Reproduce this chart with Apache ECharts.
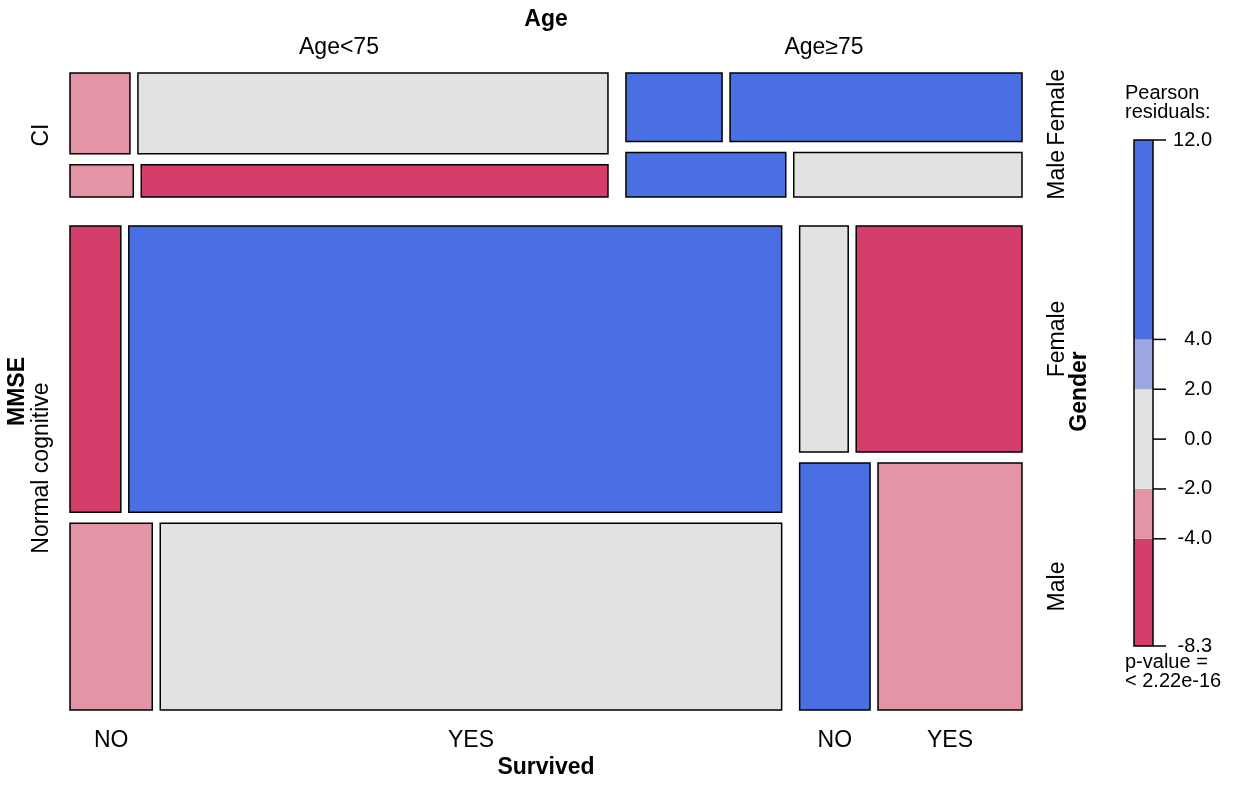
<!DOCTYPE html>
<html>
<head>
<meta charset="utf-8" />
<title>Mosaic</title>
<style>
  html, body { margin: 0; padding: 0; background: #fff; }
  #chart { width: 1248px; height: 786px; }
</style>
</head>
<body>
<div id="chart"></div>
<script src="https://cdn.jsdelivr.net/npm/echarts@6/dist/echarts.min.js"></script>
<script>
// levels of the four factors
var mmseLevels = ['CI', 'Normal cognitive'];
var ageLevels = ['Age<75', 'Age\u226575'];
var genderLevels = ['Female', 'Male'];
var survivedLevels = ['NO', 'YES'];

// counts per MMSE x Age block, order: Female-NO, Female-YES, Male-NO, Male-YES
var countCIyoung = [19, 149, 8, 59];
var countCIold = [26, 79, 28, 40];
var countNormYoung = [53, 681, 56, 423];
var countNormOld = [41, 140, 65, 133];

// pearson residuals, same order
var residCIyoung = [-3.0, 0.8, -2.6, -5.5];
var residCIold = [9.0, 12.0, 7.5, 1.2];
var residNormYoung = [-8.3, 5.8, -3.1, -1.0];
var residNormOld = [0.6, -5.2, 5.0, -3.3];

// shading legend
var shadeBreaks = [-8.3, -4, -2, 2, 4, 12];
var shadeColors = ['#D33F6A', '#E495A5', '#E2E2E2', '#9DA8E2', '#4A6FE3'];
var legendTicks = [12, 4, 2, 0, -2, -4, -8.3];

var counts = [[countCIyoung, countCIold], [countNormYoung, countNormOld]];
var resids = [[residCIyoung, residCIold], [residNormYoung, residNormOld]];

var plotW = 952, plotH = 637;
var gaps = [29, 18, 11, 8];
var FONT = '"Liberation Sans", Arial, sans-serif';

function sum(a) { return a.reduce(function (s, v) { return s + v; }, 0); }

function splitRect(r, weights, gap, dir) {
	var total = sum(weights);
	var n = weights.length;
	var out = [];
	if (dir === 'h') {
		var avail = (r.x1 - r.x0) - gap * (n - 1);
		var x = r.x0;
		for (var i = 0; i < n; i++) {
			var w = avail * weights[i] / total;
			out.push({ x0: x, x1: x + w, y0: r.y0, y1: r.y1 });
			x += w + gap;
		}
	} else {
		var availH = (r.y1 - r.y0) - gap * (n - 1);
		var y = r.y0;
		for (var j = 0; j < n; j++) {
			var h = availH * weights[j] / total;
			out.push({ x0: r.x0, x1: r.x1, y0: y, y1: y + h });
			y += h + gap;
		}
	}
	return out;
}

function shadeOf(v) {
	for (var i = 0; i < shadeColors.length; i++) {
		if (v <= shadeBreaks[i + 1]) return shadeColors[i];
	}
	return shadeColors[shadeColors.length - 1];
}

// build the mosaic: MMSE rows, Age columns, Gender rows, Survived columns
var cells = [];
var labels = [];
var whole = { x0: 0, x1: plotW, y0: 0, y1: plotH };
var mmseW = counts.map(function (m) { return sum(m.map(sum)); });
var mmseRects = splitRect(whole, mmseW, gaps[0], 'v');

mmseRects.forEach(function (mr, m) {
	labels.push({ x: mr.x0, y: (mr.y0 + mr.y1) / 2, dx: -28, dy: 0, text: mmseLevels[m], rot: true });
	var ageRects = splitRect(mr, counts[m].map(sum), gaps[1], 'h');
	ageRects.forEach(function (ar, a) {
		var c = counts[m][a];
		if (m === 0) {
			labels.push({ x: (ar.x0 + ar.x1) / 2, y: ar.y0, dx: 0, dy: -25, text: ageLevels[a] });
		}
		var gRects = splitRect(ar, [c[0] + c[1], c[2] + c[3]], gaps[2], 'v');
		gRects.forEach(function (gr, g) {
			if (a === ageRects.length - 1) {
				labels.push({ x: gr.x1, y: (gr.y0 + gr.y1) / 2, dx: 36, dy: 0, text: genderLevels[g], rot: true });
			}
			var sRects = splitRect(gr, [c[g * 2], c[g * 2 + 1]], gaps[3], 'h');
			sRects.forEach(function (sr, s) {
				sr.r = resids[m][a][g * 2 + s];
				cells.push(sr);
				if (m === mmseRects.length - 1 && g === gRects.length - 1) {
					labels.push({ x: (sr.x0 + sr.x1) / 2, y: sr.y1, dx: 0, dy: 31, text: survivedLevels[s] });
				}
			});
		});
	});
});

// variable names
labels.push({ x: plotW / 2, y: 0, dx: 0, dy: -53, text: 'Age', bold: true });
labels.push({ x: 0, y: plotH / 2, dx: -52, dy: 0, text: 'MMSE', bold: true, rot: true });
labels.push({ x: plotW, y: plotH / 2, dx: 58, dy: 0, text: 'Gender', bold: true, rot: true });
labels.push({ x: plotW / 2, y: plotH, dx: 0, dy: 58, text: 'Survived', bold: true });

var segs = [];
for (var k = 0; k < shadeColors.length; k++) segs.push([shadeBreaks[k], shadeBreaks[k + 1]]);

var myChart = echarts.init(document.getElementById('chart'));

var option = {
	animation: false,
	backgroundColor: '#fff',
	grid: [
		{ left: 70, top: 73, width: plotW, height: plotH },
		{ left: 1134, top: 140, width: 19, height: 506 }
	],
	xAxis: [
		{ gridIndex: 0, type: 'value', min: 0, max: plotW, show: false },
		{ gridIndex: 1, type: 'value', min: 0, max: 1, show: false }
	],
	yAxis: [
		{ gridIndex: 0, type: 'value', min: 0, max: plotH, inverse: true, show: false },
		{
			gridIndex: 1, type: 'value', min: -8.3, max: 12, position: 'right',
			axisLine: { show: false },
			splitLine: { show: false },
			axisTick: { show: false },
			axisLabel: {
				customValues: legendTicks, align: 'right', margin: 59,
				color: '#000', fontSize: 20, fontFamily: FONT,
				formatter: function (v) { return v.toFixed(1); }
			}
		}
	],
	graphic: [
		{ type: 'text', left: 1125, top: 83, style: { text: 'Pearson\nresiduals:', font: '20px ' + FONT, fill: '#000', lineHeight: 19 } },
		{ type: 'text', left: 1125, top: 652, style: { text: 'p-value =\n< 2.22e-16', font: '20px ' + FONT, fill: '#000', lineHeight: 19 } }
	],
	series: [
		{
			type: 'custom',
			xAxisIndex: 0, yAxisIndex: 0,
			data: cells.map(function (c) { return [c.x0, c.y0, c.x1, c.y1]; }),
			encode: { x: [0, 2], y: [1, 3] },
			renderItem: function (params, api) {
				var c = cells[params.dataIndex];
				var p0 = api.coord([c.x0, c.y0]);
				var p1 = api.coord([c.x1, c.y1]);
				return {
					type: 'rect',
					shape: { x: p0[0], y: p0[1], width: p1[0] - p0[0], height: p1[1] - p0[1] },
					style: { fill: shadeOf(c.r), stroke: '#000', lineWidth: 1.5 }
				};
			}
		},
		{
			type: 'custom',
			xAxisIndex: 0, yAxisIndex: 0,
			data: labels.map(function (l) { return [l.x, l.y]; }),
			renderItem: function (params, api) {
				var l = labels[params.dataIndex];
				var p = api.coord([l.x, l.y]);
				return {
					type: 'text',
					x: p[0] + l.dx, y: p[1] + l.dy,
					rotation: l.rot ? Math.PI / 2 : 0,
					style: {
						text: l.text,
						font: (l.bold ? 'bold ' : '') + '23px ' + FONT,
						fill: '#000', align: 'center', verticalAlign: 'middle'
					}
				};
			}
		},
		{
			type: 'custom',
			xAxisIndex: 1, yAxisIndex: 1,
			data: segs,
			renderItem: function (params, api) {
				var s = segs[params.dataIndex];
				var p0 = api.coord([0, s[1]]);
				var p1 = api.coord([1, s[0]]);
				return {
					type: 'rect',
					shape: { x: p0[0], y: p0[1], width: p1[0] - p0[0], height: p1[1] - p0[1] },
					style: { fill: shadeColors[params.dataIndex] }
				};
			}
		},
		{
			type: 'custom',
			xAxisIndex: 1, yAxisIndex: 1,
			data: [[shadeBreaks[0], shadeBreaks[shadeBreaks.length - 1]]],
			renderItem: function (params, api) {
				var p0 = api.coord([0, shadeBreaks[shadeBreaks.length - 1]]);
				var p1 = api.coord([1, shadeBreaks[0]]);
				return {
					type: 'rect',
					shape: { x: p0[0], y: p0[1], width: p1[0] - p0[0], height: p1[1] - p0[1] },
					style: { fill: 'none', stroke: '#000', lineWidth: 1.5 }
				};
			}
		},
		{
			// tick marks on the right of the colour bar
			type: 'custom',
			xAxisIndex: 1, yAxisIndex: 1,
			data: legendTicks.map(function (v) { return [1, v]; }),
			renderItem: function (params, api) {
				var p = api.coord([1, legendTicks[params.dataIndex]]);
				return {
					type: 'line',
					shape: { x1: p[0], y1: p[1], x2: p[0] + 13, y2: p[1] },
					style: { stroke: '#000', lineWidth: 1.5 }
				};
			}
		}
	]
};

myChart.setOption(option);
</script>
</body>
</html>
